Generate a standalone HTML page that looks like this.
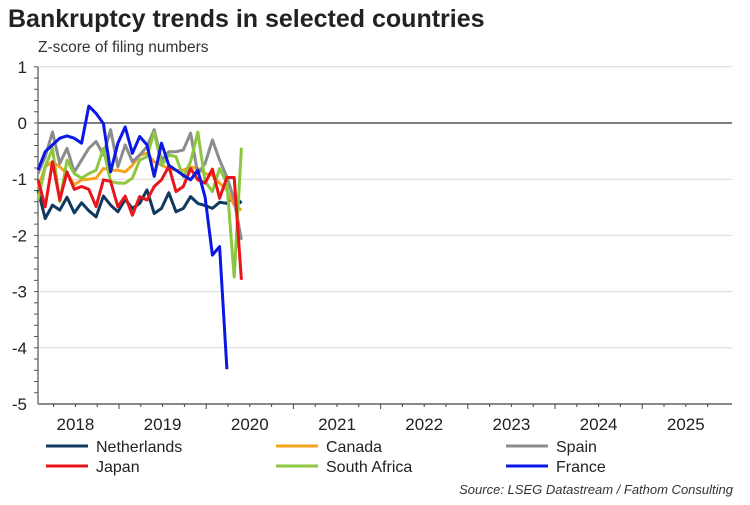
<!DOCTYPE html>
<html><head><meta charset="utf-8"><style>
body{margin:0;background:#fff;}
svg text{font-family:"Liberation Sans",Arial,sans-serif;}
</style></head><body>
<svg width="750" height="500" xmlns="http://www.w3.org/2000/svg">
<text x="8" y="27" font-size="25" font-weight="bold" fill="#222">Bankruptcy trends in selected countries</text>
<text x="38" y="52" font-size="15.5" fill="#333">Z-score of filing numbers</text>
<g id="grid"></g>
<g id="axes"></g>
<g id="series"></g>
<g id="legend"></g>
<text x="733" y="494" font-size="13" font-style="italic" fill="#333" text-anchor="end">Source: LSEG Datastream / Fathom Consulting</text>
</svg>
<script>
const yTicks=[1,0,-1,-2,-3,-4,-5];
const years=[2018,2019,2020,2021,2022,2023,2024,2025];
const seriesNames=["Netherlands","Canada","Spain","Japan","South Africa","France"];
const seriesColors=["#0f3a5f","#f7a21b","#8c8c8c","#e8161b","#8dc63f","#0a18e6"];
const netherlands=[-1.19,-1.70,-1.46,-1.55,-1.32,-1.60,-1.42,-1.56,-1.67,-1.30,-1.46,-1.58,-1.36,-1.52,-1.43,-1.19,-1.61,-1.52,-1.24,-1.58,-1.52,-1.31,-1.43,-1.47,-1.52,-1.41,-1.43,-1.28,-1.43];
const canada=[-1.16,-0.78,-0.69,-0.78,-0.90,-1.10,-1.01,-1.00,-0.98,-0.81,-0.84,-0.84,-0.87,-0.75,-0.57,-0.54,-0.69,-0.75,-0.81,-0.84,-0.84,-0.78,-0.81,-0.90,-0.93,-1.07,-1.19,-1.46,-1.55];
const spain=[-0.90,-0.60,-0.16,-0.72,-0.45,-0.87,-0.66,-0.45,-0.33,-0.57,-0.12,-0.78,-0.39,-0.69,-0.57,-0.42,-0.12,-0.66,-0.51,-0.51,-0.48,-0.18,-0.90,-0.72,-0.30,-0.66,-0.96,-1.37,-2.08];
const japan=[-1.01,-1.49,-0.69,-1.37,-0.87,-1.18,-1.13,-1.18,-1.49,-1.01,-1.04,-1.49,-1.30,-1.64,-1.31,-1.37,-1.13,-1.01,-0.77,-1.22,-1.13,-0.81,-1.01,-1.07,-0.82,-1.34,-0.97,-0.97,-2.79];
const southAfrica=[-1.37,-0.78,-0.45,-1.40,-0.66,-0.90,-0.98,-0.90,-0.84,-0.45,-1.04,-1.07,-1.07,-0.98,-0.66,-0.60,-0.16,-0.75,-0.57,-0.60,-0.96,-0.69,-0.16,-1.04,-1.22,-0.81,-1.07,-2.74,-0.44];
const france=[-0.84,-0.51,-0.39,-0.27,-0.23,-0.27,-0.36,0.30,0.17,-0.01,-0.87,-0.36,-0.07,-0.54,-0.24,-0.39,-0.95,-0.36,-0.75,-0.84,-0.93,-1.01,-0.84,-1.32,-2.35,-2.20,-4.38];
const allSeries=[netherlands,canada,spain,japan,southAfrica,france];
const drawOrder=[0,1,2,4,3,5];
const NS="http://www.w3.org/2000/svg";
const X0=31.8, PXY=87.2, XL=38, XR=732;
const yScale=v=>123-v*56.2;
const xScale=t=>X0+(t-2018)*PXY;
const monthX=i=>xScale(2018+(i+0.85)/12);
function mk(tag,attrs,parent){const e=document.createElementNS(NS,tag);for(const k in attrs)e.setAttribute(k,attrs[k]);parent.appendChild(e);return e;}
const grid=document.getElementById('grid'),axes=document.getElementById('axes'),ser=document.getElementById('series'),leg=document.getElementById('legend');
yTicks.forEach(v=>{
  if(v!==-5&&v!==0){const g=mk('line',{x1:XL,x2:XR,y1:yScale(v),y2:yScale(v),stroke:'#d9d9d9','stroke-width':1},grid);
  
  }
  const t=mk('text',{x:27,y:yScale(v)+6,'font-size':17,'text-anchor':'end',fill:'#222'},axes);t.textContent=v;
  
  
});
for(let v=1;v>=-5;v-=0.2){mk('line',{x1:XL-4,x2:XL,y1:yScale(v),y2:yScale(v),stroke:'#555','stroke-width':1},axes);}
const zl=mk('line',{x1:XL,x2:XR,y1:yScale(0),y2:yScale(0),stroke:'#333','stroke-width':1.2},axes);


const ya=mk('line',{x1:XL,x2:XL,y1:yScale(1),y2:yScale(-5),stroke:'#555','stroke-width':1.2},axes);


const xa=mk('line',{x1:XL,x2:XR,y1:yScale(-5),y2:yScale(-5),stroke:'#888','stroke-width':2},axes);


for(let q=2018.25;q<2026;q+=0.25){const x=xScale(q);if(x<XL||x>XR)continue;const major=Math.abs(q-Math.round(q))<0.01;
  mk('line',{x1:x,x2:x,y1:yScale(-5),y2:yScale(-5)+(major?5:3),stroke:'#444','stroke-width':1},axes);}
years.forEach(y=>{const t=mk('text',{x:xScale(y+0.5),y:430,'font-size':17,'text-anchor':'middle',fill:'#222'},axes);t.textContent=y;
  
  });
drawOrder.forEach(s=>{const d=allSeries[s].map((v,i)=>(i?'L':'M')+monthX(i).toFixed(1)+' '+yScale(v).toFixed(1)).join(' ');
  const p=mk('path',{d:d,fill:'none',stroke:seriesColors[s],'stroke-width':3,'stroke-linejoin':'round'},ser);
  
  });
const lx=[46,276,506], ly=[447,467];
seriesNames.forEach((n,i)=>{const col=i%3,row=Math.floor(i/3);
  const g=mk('g',{},leg);
  
  
  mk('line',{x1:lx[col],x2:lx[col]+42,y1:ly[row]-1,y2:ly[row]-1,stroke:seriesColors[i],'stroke-width':3},g);
  const t=mk('text',{x:lx[col]+50,y:ly[row]+5,'font-size':16,fill:'#222'},g);t.textContent=n;});
</script>
</body></html>
